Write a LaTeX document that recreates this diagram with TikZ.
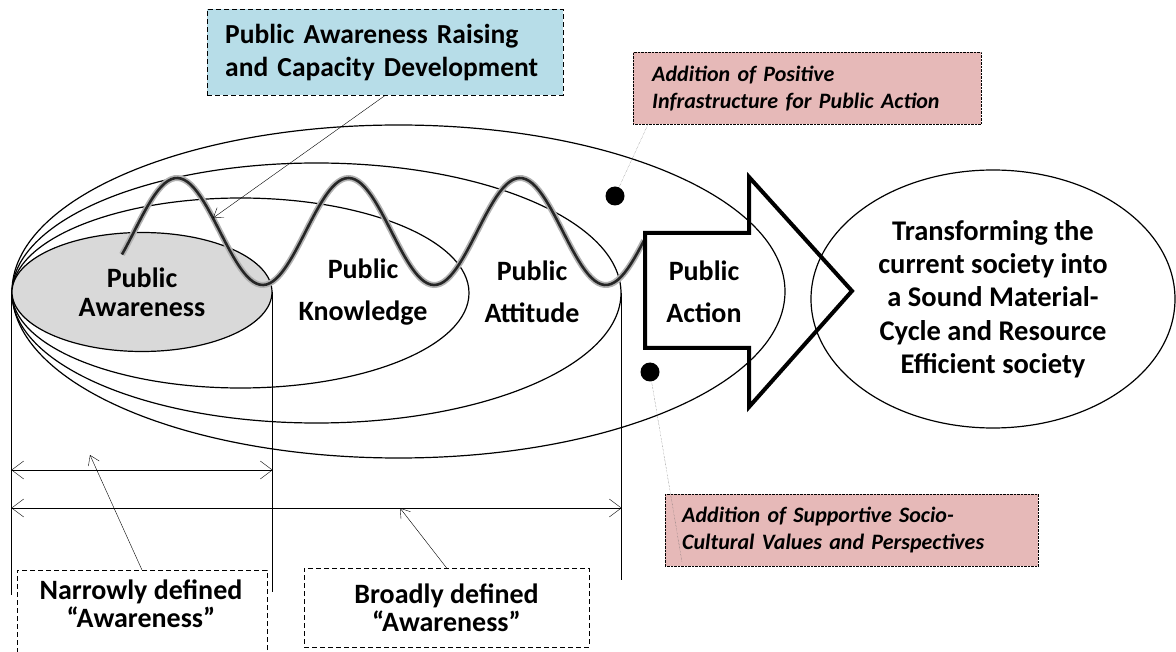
\documentclass[tikz,border=0pt]{standalone}
\usepackage{fontspec}
\setmainfont{Carlito}
\usetikzlibrary{arrows.meta,positioning,shapes}

\definecolor{boxblue}{HTML}{B7DDE8}
\definecolor{boxpink}{HTML}{E6B9B8}
\definecolor{ovalgray}{HTML}{D9D9D9}

\begin{document}
\begin{tikzpicture}[x=1pt,y=-1pt,>={Straight Barb[length=12pt,width=18pt]},thin]
\tikzstyle{oval}=[ellipse,draw,line width=1.2pt,inner sep=0]
\tikzstyle{lbl}=[align=center,font=\fontsize{28}{42}\selectfont\bfseries]
\tikzstyle{note}=[draw,densely dotted,fill=boxpink,align=left,anchor=north west,minimum height=72,inner ysep=0,font=\fontsize{22}{27}\selectfont\bfseries\itshape]
\tikzstyle{tag}=[draw,dash pattern=on 5pt off 3pt,align=center,inner sep=0,font=\fontsize{28}{28}\selectfont\bfseries]
\tikzstyle{pointer}=[->,>={Straight Barb[length=9pt,width=12pt]}]

\useasboundingbox (0,0) rectangle (1176,652);

% nested ovals
\node[oval, minimum width=773, minimum height=333] (D) at (398.5,291.5) {};
\node[oval, minimum width=609, minimum height=260] (C) at (316.5,293) {};
\node[oval, minimum width=457, minimum height=190] (B) at (240.5,293) {};
\node[oval, fill=ovalgray, minimum width=260, minimum height=119, lbl, font=\fontsize{28}{29}\selectfont\bfseries] (A) at (142,292) {Public\\Awareness};

\node[lbl] (K) at (363,292) {Public\\Knowledge};
\node[lbl] (L) at (532,292) {Public\\Attitude};

% wave
\draw[gray!60, line width=6pt] plot[domain=122:644, samples=160] (\x,{231.5-53.5*cos(2.0991*(\x-177))});
\draw[black!85, line width=2.6pt] plot[domain=122:644, samples=160] (\x,{231.5-53.5*cos(2.0991*(\x-177))});
\coordinate (W) at (213,218);

% action arrow
\draw[line width=4pt, line join=miter] (645,233) -- (749,233) -- (749,177) -- (852,291) -- (749,407) -- (749,348) -- (645,348) -- cycle;
\node[lbl] (M) at (704,292) {Public\\Action};

\node[oval, minimum width=364, minimum height=258, align=center, font=\fontsize{28.5}{33.3}\selectfont\bfseries] (F) at (993,299)
  {Transforming the\\current society into\\a Sound Material-\\Cycle and Resource\\Efficient society};

% boxes on top
\node[draw, dash pattern=on 5pt off 3pt, fill=boxblue, anchor=north west, align=left, text width=320, inner xsep=18, minimum height=86, font=\fontsize{27.5}{33}\selectfont\bfseries] (T) at (207,9)
  {Public Awareness Raising\\and Capacity Development};
\node[note, text width=310, inner xsep=19] (P) at (633,52) {Addition of Positive\\Infrastructure for Public Action};
\node[note, text width=339, inner xsep=17] (Q) at (665,494) {Addition of Supportive Socio-\\Cultural Values and Perspectives};

\node[circle, fill, inner sep=0, minimum size=19] (D1) at (615,196) {};
\node[circle, fill, inner sep=0, minimum size=19] (D2) at (650,372) {};
\coordinate (E) at (682,562);

\draw[pointer] (T.south) -- (W);
\draw[densely dotted, black!60] ([xshift=15]P.south west) -- (D1);
\draw[densely dotted, black!60] (D2) -- (E);

% dimension lines
\coordinate (h1) at (0,470);
\coordinate (h2) at (0,508);
\coordinate (v1) at (0,595);
\coordinate (v2) at (0,592);
\coordinate (v3) at (0,580);
\draw (A.west) -- (A.west |- v1);
\draw (A.east) -- (A.east |- v2);
\draw (C.east) -- (C.east |- v3);
\draw[<->] (A.west |- h1) -- (A.east |- h1);
\draw[<->] (A.west |- h2) -- (C.east |- h2);

% bottom tags
\node[tag, minimum width=250, minimum height=110, anchor=north] (N) at (142,570) {};
\node[tag, draw=none] (N1) at (141,604) {Narrowly defined\\“Awareness”};
\node[tag, minimum width=285, minimum height=79] (G) at (446.5,607.5) {Broadly defined\\“Awareness”};
\coordinate (n1) at (90,455);
\coordinate (g1) at (400,508);
\draw[pointer] (N.north) -- (n1);
\draw[pointer] (G.north) -- (g1);
\end{tikzpicture}
\end{document}
